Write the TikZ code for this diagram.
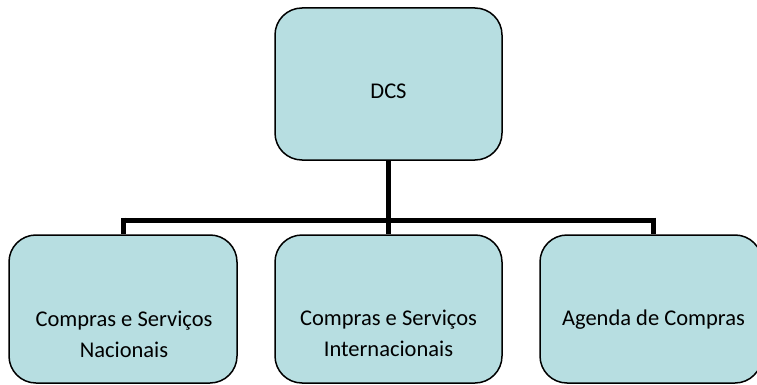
\documentclass[tikz,border=0pt]{standalone}
\usepackage{fontspec}
\setmainfont{Carlito}
\definecolor{boxfill}{RGB}{183,222,225}
\begin{document}
\begin{tikzpicture}[x=1pt,y=-1pt,
  orgbox/.style={draw=black, line width=1.5pt, fill=boxfill, rounded corners=27pt, inner sep=0pt},
  lbl/.style={font=\fontsize{22.5}{31}\selectfont, align=center, anchor=base, inner sep=0pt},
  conn/.style={line width=5pt}]
\useasboundingbox (0,0) rectangle (757,385);
% boxes
\node[orgbox, minimum width=227pt, minimum height=152pt] (top) at (388.5,84) {};
\node[orgbox, minimum width=228pt, minimum height=148pt] (left) at (123,309) {};
\node[orgbox, minimum width=227pt, minimum height=148pt] (mid) at (388.5,309) {};
\node[orgbox, minimum width=222pt, minimum height=148pt] (right) at (651,309) {};
% connectors
\coordinate (bus) at (388.5,220);
\coordinate (busL) at (123,220);
\coordinate (busR) at (653,220);
\draw[conn] (top.south) -- (bus);
\draw[conn] (busL) -- (busR);
\draw[conn] (busL |- 0,217.5) -- (busL |- left.north);
\draw[conn] (bus) -- (mid.north);
\draw[conn] (busR |- 0,217.5) -- (busR |- right.north);
% labels
\node[lbl] (tTop) at (388.5,99) {DCS};
\node[lbl] (tLeft) at (124,357) {Compras e Serviços\\Nacionais};
\node[lbl] (tMid) at (388.5,356) {Compras e Serviços\\Internacionais};
\node[lbl] (tRight) at (653.5,325) {Agenda de Compras};
\end{tikzpicture}
\end{document}
